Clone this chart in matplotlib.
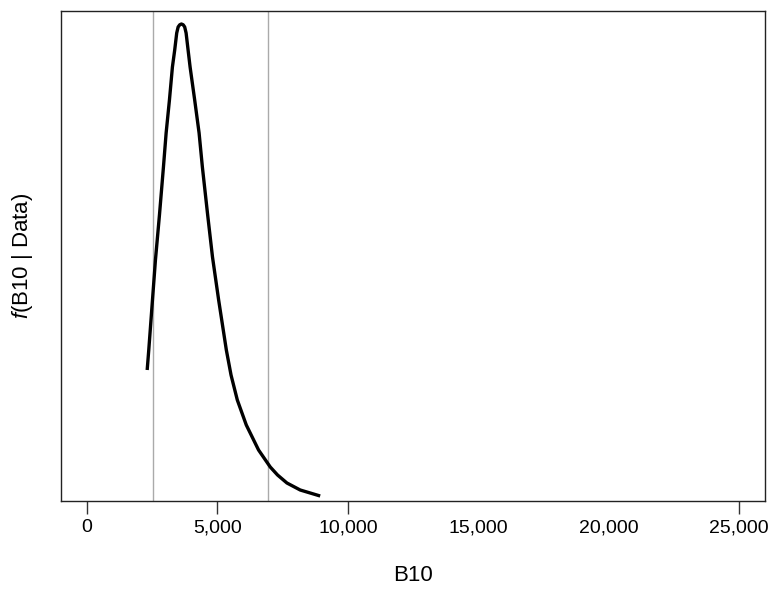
import matplotlib
matplotlib.use("Agg")
import matplotlib.pyplot as plt

plt.rcParams["font.family"] = ["Liberation Sans", "DejaVu Sans"]
plt.rcParams["mathtext.fontset"] = "custom"
plt.rcParams["mathtext.it"] = "Liberation Sans:italic"
plt.rcParams["mathtext.rm"] = "Liberation Sans"

# posterior density of B10 (density in units of 1e-4)
b10 = [2305, 2366, 2622, 2776, 2929, 3032, 3159, 3273, 3361, 3438, 3492,
       3553, 3618, 3687, 3744, 3798, 3874, 3951, 4127, 4296, 4422, 4625,
       4810, 5046, 5341, 5521, 5762, 6106, 6577, 7025, 7305, 7665, 8174,
       8940]
density = [1.31, 1.51, 2.41, 2.86, 3.34, 3.68, 4.01, 4.34, 4.51, 4.68, 4.74,
           4.762, 4.77, 4.762, 4.74, 4.68, 4.51, 4.34, 4.01, 3.68, 3.34, 2.86,
           2.44, 2.01, 1.51, 1.26, 1.01, 0.76, 0.51, 0.34, 0.26, 0.18, 0.11,
           0.05]
interval = [2540, 6920]

xticks = [0, 5000, 10000, 15000, 20000, 25000]
xticklabels = ["0", "5,000", "10,000", "15,000", "20,000", "25,000"]
no_tick_mark = [15000, 20000]

fig = plt.figure(figsize=(7.74, 5.89), dpi=100)
ax = fig.add_axes([61 / 774, 1 - 501 / 589, 704 / 774, 490 / 589])

for v in interval:
    ax.axvline(v, color="#aaaaaa", lw=1.0, zorder=1)

ax.plot(b10, [d * 1e-4 for d in density], color="black", lw=2.4,
        solid_joinstyle="round", solid_capstyle="butt", zorder=2)

ax.set_xlim(-1000, 26000)
ax.set_ylim(0, 4.90e-4)

ax.set_xticks(xticks)
ax.set_xticklabels(xticklabels, fontsize=14)
ax.tick_params(axis="x", direction="out", length=9, width=1, pad=4,
               color="#333333")
for t, pos in zip(ax.xaxis.get_major_ticks(), xticks):
    if pos in no_tick_mark:
        t.tick1line.set_visible(False)
ax.set_yticks([])

for s in ax.spines.values():
    s.set_linewidth(1.0)
    s.set_color("#222222")

ax.set_xlabel("B10", fontsize=16, labelpad=21)
ax.set_ylabel(r"$\mathit{f}$(B10 | Data)", fontsize=16, labelpad=19)

fig.savefig("out.png", dpi=100)
